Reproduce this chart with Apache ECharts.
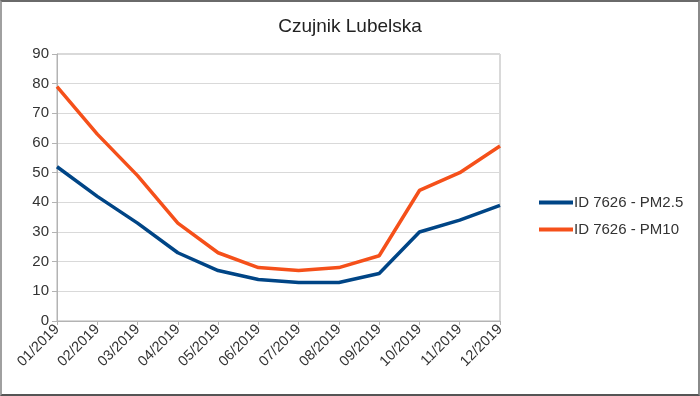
<!DOCTYPE html>
<html><head><meta charset="utf-8">
<script src="https://cdn.jsdelivr.net/npm/echarts@6/dist/echarts.min.js"></script>
<style>
html,body{margin:0;padding:0;background:#fff;}
#frame{position:absolute;left:0;top:0;width:696px;height:392px;border-left:2px solid #a0a0a0;border-right:2px solid #8a8a8a;border-top:2px solid #6a6a6a;border-bottom:2px solid #555;}
#c{position:absolute;left:0;top:0;width:700px;height:396px;}
</style></head>
<body>
<div id="c"></div>
<div id="frame"></div>
<script>
const title = 'Czujnik Lubelska';
const categories = ['01/2019','02/2019','03/2019','04/2019','05/2019','06/2019','07/2019','08/2019','09/2019','10/2019','11/2019','12/2019'];
const seriesNames = ['ID 7626 - PM2.5','ID 7626 - PM10'];
const pm25 = [52,42,33,23,17,14,13,13,16,30,34,39];
const pm10 = [79,63,49,33,23,18,17,18,22,44,50,59];
const yTicks = {min:0, max:90, interval:10};

const chart = echarts.init(document.getElementById('c'), null, {renderer:'canvas'});
const font = 'Liberation Sans, Arial, sans-serif';
chart.setOption({
  animation:false,
  backgroundColor:'#fff',
  title:{text:title,left:'center',top:12,itemGap:0,
    textStyle:{fontFamily:font,fontSize:19,fontWeight:'normal',color:'#222'}},
  legend:{orient:'vertical',left:534,top:190,itemWidth:34,itemHeight:4,itemGap:12,icon:'rect',
    textStyle:{fontFamily:font,fontSize:15,color:'#333',padding:[0,0,0,-4]}},
  grid:{left:57,right:200,top:54,bottom:75,show:true,borderColor:'#b3b3b3',borderWidth:1},
  xAxis:{type:'category',data:categories,boundaryGap:false,
    axisLine:{lineStyle:{color:'#b3b3b3'}},
    axisTick:{show:true,length:4,lineStyle:{color:'#b3b3b3'}},
    axisLabel:{rotate:45,fontFamily:font,fontSize:14.5,color:'#333',margin:6,interval:0},
    splitLine:{show:false}},
  yAxis:{type:'value',min:yTicks.min,max:yTicks.max,interval:yTicks.interval,
    axisLine:{show:true,lineStyle:{color:'#b3b3b3'}},
    axisTick:{show:true,length:5,lineStyle:{color:'#b3b3b3'}},
    axisLabel:{fontFamily:font,fontSize:15,color:'#333',margin:8},
    splitLine:{lineStyle:{color:'#d9d9d9'}}},
  series:[
    {name:seriesNames[0],type:'line',data:pm25,symbol:'none',lineStyle:{width:3.5,color:'#004586'},itemStyle:{color:'#004586'}},
    {name:seriesNames[1],type:'line',data:pm10,symbol:'none',lineStyle:{width:3.5,color:'#f5501a'},itemStyle:{color:'#f5501a'}}
  ]
});
</script>
</body></html>
